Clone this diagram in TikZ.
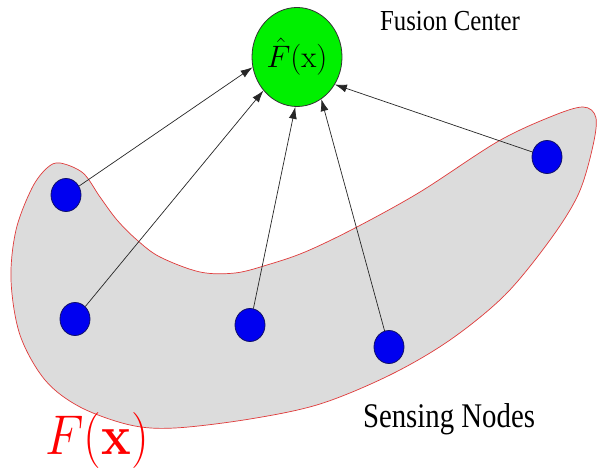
\RequirePackage{fix-cm}
\documentclass[tikz,border=0pt]{standalone}
\usepackage[no-math]{fontspec}
\setmainfont{Liberation Serif}
\usetikzlibrary{shapes.geometric,arrows.meta}
\definecolor{blobgray}{HTML}{DCDCDC}
\definecolor{blobred}{HTML}{E03A3A}
\definecolor{nodeblue}{HTML}{0000F0}
\definecolor{nodeedge}{HTML}{10106A}
\definecolor{fcgreen}{HTML}{00F000}
\begin{document}
\begin{tikzpicture}[x=1pt,y=-1pt,
  sensor/.style={ellipse,draw=nodeedge,fill=nodeblue,line width=0.8pt,minimum width=30pt,minimum height=33pt,inner sep=0pt},
  fusion/.style={ellipse,draw=black!80,fill=fcgreen,line width=0.8pt,minimum width=90pt,minimum height=99pt,inner sep=0pt,font=\fontsize{31}{31}\selectfont},
  link/.style={draw=black!85,line width=0.7pt,-{Latex[length=12pt,width=8pt]}},
  lbl/.style={inner sep=0pt,transform shape}]
\useasboundingbox (0,0) rectangle (597,470);
\fill[white] (0,0) rectangle (597,470);
% region F(x)
\draw[blobred,fill=blobgray,line width=0.7pt] plot[smooth cycle,tension=0.55] coordinates {
 (60,163) (83,173) (100,197) (117,220) (137,240) (160,257) (200,272) (235,273)
 (267,265) (305,252) (355,228) (420,192) (497,142) (550,117) (583,107) (596,118)
 (592,150) (578,195) (550,240) (505,295) (450,340) (390,375) (320,404)
 (250,419) (175,428) (130,425) (80,407) (45,380) (20,335) (11,280) (16,230)
 (32,188) (47,168)};
% fusion center
\node[fusion] (fc) at (297,57) {$\hat{F}(\mathrm{x})$};
% sensing nodes
\node[sensor] (n1) at (66,195) {};
\node[sensor] (n2) at (75,319) {};
\node[sensor] (n3) at (250,325) {};
\node[sensor] (n4) at (389,347) {};
\node[sensor] (n5) at (547,157) {};
% links
\draw[link] (n1) -- (fc.193);
\draw[link] (n2) -- (fc.225);
\draw[link] (n3) -- (fc.268);
\draw[link] (n4) -- (fc.300);
\draw[link] (n5) -- (fc.324);
% labels
\node[lbl,yscale=1.17] (fctext) at (450,21) {\fontsize{24.8}{25}\selectfont Fusion Center};
\node[lbl,yscale=1.2] (sntext) at (449,419) {\fontsize{28.8}{29}\selectfont Sensing Nodes};
\node[lbl,yscale=1.12,text=red] (fx) at (97,441) {\fontsize{50}{50}\selectfont$F(\mathbf{x})$};
\end{tikzpicture}
\end{document}
